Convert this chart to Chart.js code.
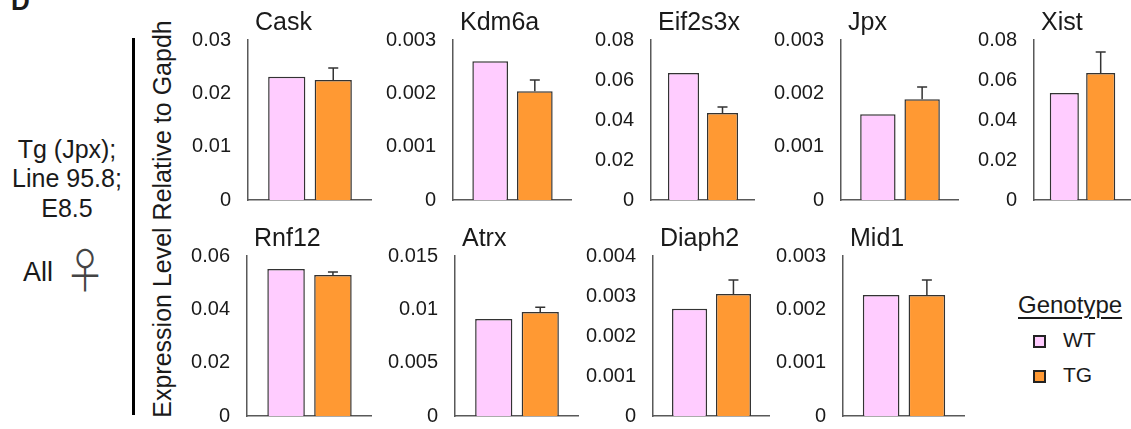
<!DOCTYPE html>
<html>
<head>
<meta charset="utf-8">
<script src="https://cdn.jsdelivr.net/npm/chart.js@4.4.0/dist/chart.umd.min.js"></script>
<style>
  html, body { margin: 0; padding: 0; background: #fff; }
  body { width: 1131px; height: 429px; position: relative; overflow: hidden;
         font-family: "Liberation Sans", Arial, sans-serif; color: #1a1a1a; }
  .abs { position: absolute; line-height: 1; white-space: nowrap; }
  canvas { position: absolute; }
  .box { position: absolute; width: 13px; height: 13px; box-sizing: border-box; border: 2px solid #222; }
</style>
</head>
<body>
<div class="abs" style="left:11px;top:-12px;font-size:26px;font-weight:bold;">D</div>

<div class="abs" style="left:0;top:137px;width:134px;text-align:center;font-size:25px;">Tg (Jpx);</div>
<div class="abs" style="left:0;top:166px;width:134px;text-align:center;font-size:25px;">Line 95.8;</div>
<div class="abs" style="left:0;top:196px;width:134px;text-align:center;font-size:25px;">E8.5</div>
<div class="abs" style="left:23px;top:259px;font-size:27px;">All</div>
<div class="abs" style="left:62px;top:244px;font-size:52px;font-family:'Noto Sans CJK JP';font-weight:300;color:#444;transform-origin:11px 4px;transform:scale(0.8,0.92);">♀</div>

<div style="position:absolute;left:132px;top:38px;width:3px;height:377px;background:#000;"></div>
<div class="abs" style="left:-48px;top:204px;width:420px;height:30px;line-height:30px;text-align:center;font-size:25px;transform:rotate(-90deg);">Expression Level Relative to Gapdh</div>

<div class="abs" style="left:1018px;top:293px;font-size:24px;text-decoration:underline;text-decoration-thickness:2px;text-underline-offset:4px;">Genotype</div>
<div class="box" style="left:1033px;top:335px;background:#FFCCFF;"></div>
<div class="abs" style="left:1063px;top:329px;font-size:21px;">WT</div>
<div class="box" style="left:1033px;top:370px;background:#FF9933;"></div>
<div class="abs" style="left:1063px;top:364px;font-size:21px;">TG</div>

<script>
const genes = ['Cask', 'Kdm6a', 'Eif2s3x', 'Jpx', 'Xist', 'Rnf12', 'Atrx', 'Diaph2', 'Mid1'];
const wtValues = [0.0231, 0.0026, 0.0635, 0.00161, 0.0535, 0.0551, 0.0091, 0.00268, 0.00227];
const tgValues = [0.0225, 0.00204, 0.0435, 0.00189, 0.0635, 0.0529, 0.00975, 0.00305, 0.00227];
const tgErrors = [0.00225, 0.00021, 0.003, 0.00023, 0.0105, 0.0011, 0.00045, 0.00035, 0.00028];
const yMax = [0.03, 0.003, 0.08, 0.003, 0.08, 0.06, 0.015, 0.004, 0.003];
const yStep = [0.01, 0.001, 0.02, 0.001, 0.02, 0.02, 0.005, 0.001, 0.001];

// panel placement: axis x, plot width, row
const panels = [
  { x: 248, w: 124, row: 0 }, { x: 453, w: 119, row: 0 }, { x: 651, w: 104, row: 0 },
  { x: 841, w: 118, row: 0 }, { x: 1034, w: 97, row: 0 },
  { x: 247, w: 125, row: 1 }, { x: 455, w: 124, row: 1 }, { x: 653, w: 117, row: 1 },
  { x: 843, w: 122, row: 1 }
];
const rowTop = [40, 256];
const AXIS_W = 80, PAD_TOP = 30, PAD_BOTTOM = 14, PLOT_H = 160, EXTRA = 15;

const errorBars = {
  id: 'errorBars',
  afterDatasetsDraw(chart, args, opts) {
    const meta = chart.getDatasetMeta(1);
    const y = chart.scales.y;
    const c = chart.ctx;
    c.save();
    c.strokeStyle = '#333';
    c.lineWidth = 1.5;
    meta.data.forEach(function(bar, i) {
      const v = chart.data.datasets[1].data[i];
      const top = y.getPixelForValue(v + opts.errors[i]);
      c.beginPath();
      c.moveTo(bar.x, bar.y);
      c.lineTo(bar.x, top);
      c.moveTo(bar.x - 5, top);
      c.lineTo(bar.x + 5, top);
      c.stroke();
    });
    c.restore();
  }
};

const panelTitle = {
  id: 'panelTitle',
  afterDraw(chart, args, opts) {
    const c = chart.ctx;
    c.save();
    c.font = '25px "Liberation Sans", Arial, sans-serif';
    c.fillStyle = '#1a1a1a';
    c.textBaseline = 'alphabetic';
    c.fillText(opts.text, chart.chartArea.left + 7, chart.chartArea.top - 10);
    c.restore();
  }
};

genes.forEach(function(gene, i) {
  const p = panels[i];
  const cv = document.createElement('canvas');
  const w = AXIS_W + p.w, h = PAD_TOP + PLOT_H + PAD_BOTTOM + EXTRA;
  cv.width = w; cv.height = h;
  cv.style.width = w + 'px'; cv.style.height = h + 'px';
  cv.style.left = (p.x - AXIS_W) + 'px';
  cv.style.top = (rowTop[p.row] - PAD_TOP) + 'px';
  document.body.appendChild(cv);

  new Chart(cv.getContext('2d'), {
    type: 'bar',
    data: {
      labels: [gene],
      datasets: [
        { label: 'WT', data: [wtValues[i]], backgroundColor: '#FFCCFF', borderColor: '#333', borderWidth: 1.5 },
        { label: 'TG', data: [tgValues[i]], backgroundColor: '#FF9933', borderColor: '#333', borderWidth: 1.5 }
      ]
    },
    options: {
      responsive: false,
      animation: false,
      devicePixelRatio: 1,
      layout: { padding: { top: PAD_TOP, bottom: PAD_BOTTOM, left: 0, right: 0 } },
      datasets: { bar: { categoryPercentage: 0.75, barPercentage: 0.8 } },
      plugins: {
        legend: { display: false },
        tooltip: { enabled: false },
        errorBars: { errors: [tgErrors[i]] },
        panelTitle: { text: gene }
      },
      scales: {
        x: {
          grid: { display: false, drawTicks: false },
          border: { display: true, color: '#595959', width: 1.5 },
          ticks: { display: false },
          afterFit: function(s) { s.height = 0; }
        },
        y: {
          min: 0,
          max: yMax[i],
          grid: { display: false, drawTicks: false },
          border: { display: true, color: '#595959', width: 1.5 },
          ticks: {
            stepSize: yStep[i],
            padding: 17,
            color: '#1a1a1a',
            font: { family: '"Liberation Sans", Arial, sans-serif', size: 20 },
            callback: function(v) { return String(+v.toFixed(4)); }
          },
          afterFit: function(s) { s.width = AXIS_W; }
        }
      }
    },
    plugins: [errorBars, panelTitle]
  });
});
</script>
</body>
</html>
